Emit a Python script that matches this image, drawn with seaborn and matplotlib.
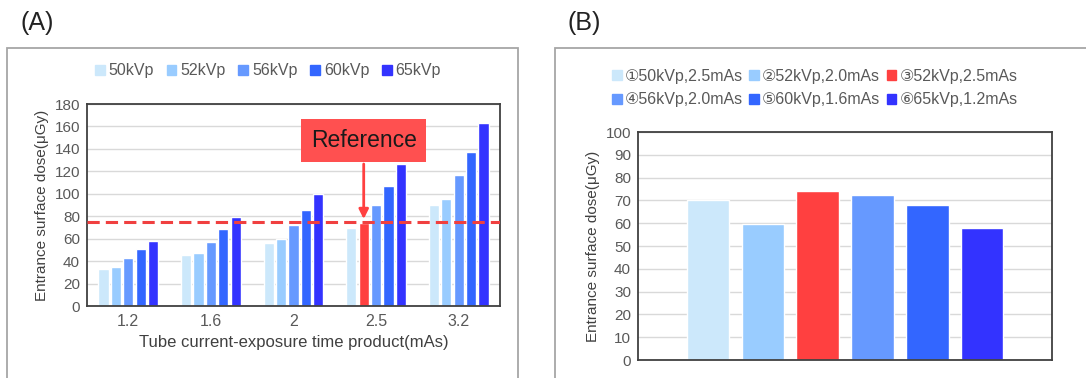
import pandas as pd
import matplotlib
matplotlib.use('Agg')
import matplotlib.pyplot as plt
from matplotlib.patches import Patch, Rectangle
import seaborn as sns

# ── data ─────────────────────────────────────────────
mas_labels = ['1.2', '1.6', '2', '2.5', '3.2']
kvp_labels = ['50kVp', '52kVp', '56kVp', '60kVp', '65kVp']
dose_50 = [32.7, 45.2, 56.3, 69.3, 89.6]
dose_52 = [35.1, 47.3, 59.8, 74.2, 95.5]
dose_56 = [43.2, 57.4, 72.0, 90.2, 116.4]
dose_60 = [51.2, 68.2, 85.4, 107.1, 137.5]
dose_65 = [57.7, 79.2, 100.0, 126.2, 162.8]
ref_level = 75

setting_labels = ['①50kVp,2.5mAs', '②52kVp,2.0mAs', '③52kVp,2.5mAs',
                  '④56kVp,2.0mAs', '⑤60kVp,1.6mAs', '⑥65kVp,1.2mAs']
setting_dose = [70.0, 59.7, 74.2, 72.5, 68.0, 58.0]

kvp_colors = ['#cce8fb', '#99ccff', '#6699ff', '#3366ff', '#3333ff']
red = '#ff4040'
setting_colors = ['#cce8fb', '#99ccff', red, '#6699ff', '#3366ff', '#3333ff']

sns.set_theme(style="white")
plt.rcParams['font.family'] = ['Liberation Sans', 'DejaVu Sans']
txt = '#595959'

fig = plt.figure(figsize=(10.86, 3.78), dpi=100)

# panel frames
fig.add_artist(Rectangle((7/1086, -0.02), 511/1086, 1.02 - 47.5/378, transform=fig.transFigure,
                         fill=False, edgecolor='#a6a6a6', lw=1.3))
fig.add_artist(Rectangle((555/1086, -0.02), 540/1086, 1.02 - 47.5/378, transform=fig.transFigure,
                         fill=False, edgecolor='#a6a6a6', lw=1.3))
fig.text(20/1086, 1 - 23/378, '(A)', fontsize=18, va='center', ha='left', color='#222222')
fig.text(567/1086, 1 - 23/378, '(B)', fontsize=18, va='center', ha='left', color='#222222')

# ── A: dose by mAs and kVp ───────────────────────────
df = pd.DataFrame({'mAs': mas_labels * 5,
                   'kVp': [k for k in kvp_labels for _ in mas_labels],
                   'dose': dose_50 + dose_52 + dose_56 + dose_60 + dose_65})
axA = fig.add_axes([87/1086, 72/378, 413/1086, 202/378])
sns.barplot(data=df, x='mAs', y='dose', hue='kVp', hue_order=kvp_labels, order=mas_labels,
            palette=kvp_colors, width=0.75, gap=0.18, legend=False, ax=axA, saturation=1)
red_bar = axA.containers[1][3]
red_bar.set_facecolor(red)
axA.axhline(ref_level, color='#f04040', ls=(0, (4, 2)), lw=2.2, zorder=5)
axA.set_ylim(0, 180)
axA.set_xlim(-0.5, 4.5)
axA.set_yticks(range(0, 181, 20))
axA.set_xlabel('Tube current-exposure time product(mAs)', fontsize=12, color='#404040', labelpad=4)
axA.set_ylabel('Entrance surface dose(μGy)', fontsize=11, color='#404040', labelpad=4)

# Reference callout
bx = red_bar.get_x() + red_bar.get_width() / 2
axA.text(bx, 147.5, 'Reference', fontsize=16.5, ha='center', va='center', color='#1a1a1a', zorder=7,
         bbox=dict(boxstyle='square,pad=0.42', fc='#ff5050', ec='none'))
axA.annotate('', xy=(bx, ref_level), xytext=(bx, 129),
             arrowprops=dict(arrowstyle='-|>', color='#ff4040', lw=2, mutation_scale=14), zorder=6)

fig.legend(handles=[Patch(color=c, label=l) for c, l in zip(kvp_colors, kvp_labels)],
           loc='center', bbox_to_anchor=(268/1086, 1 - 71/378), ncol=5, frameon=False,
           fontsize=11.5, handlelength=0.6, handleheight=0.6, handletextpad=0.25, columnspacing=0.8,
           labelcolor=txt)

# ── B: dose by setting ───────────────────────────────
axB = fig.add_axes([638/1086, 18/378, 414/1086, 228/378])
sns.barplot(x=setting_labels, y=setting_dose, hue=setting_labels, palette=setting_colors,
            width=0.77, legend=False, ax=axB, saturation=1)
axB.set_xlim(-1.27, 6.27)
axB.set_ylim(0, 100)
axB.set_yticks(range(0, 101, 10))
axB.set_xticks([])
axB.set_ylabel('Entrance surface dose(μGy)', fontsize=11, color='#404040', labelpad=4)

# legend fills row by row: ①②③ / ④⑤⑥
handlesB = [Patch(color=c, label=l) for c, l in zip(setting_colors, setting_labels)]
handlesB = [handlesB[i] for i in (0, 3, 1, 4, 2, 5)]
fig.legend(handles=handlesB,
           loc='center', bbox_to_anchor=(815/1086, 1 - 88/378), ncol=3, frameon=False,
           fontsize=11.5, handlelength=0.6, handleheight=0.6, handletextpad=0.2, columnspacing=0.4,
           labelspacing=0.55, labelcolor=txt)

for ax in (axA, axB):
    ax.yaxis.grid(True, color='#d9d9d9', lw=1)
    ax.set_axisbelow(True)
    ax.tick_params(length=0, labelsize=11, colors=txt, pad=5)
    for s in ax.spines.values():
        s.set_color('#404040')
        s.set_linewidth(1.3)
        s.set_visible(True)
axA.tick_params(axis='x', labelsize=11.5, pad=6)

fig.savefig('out.png', dpi=100)
